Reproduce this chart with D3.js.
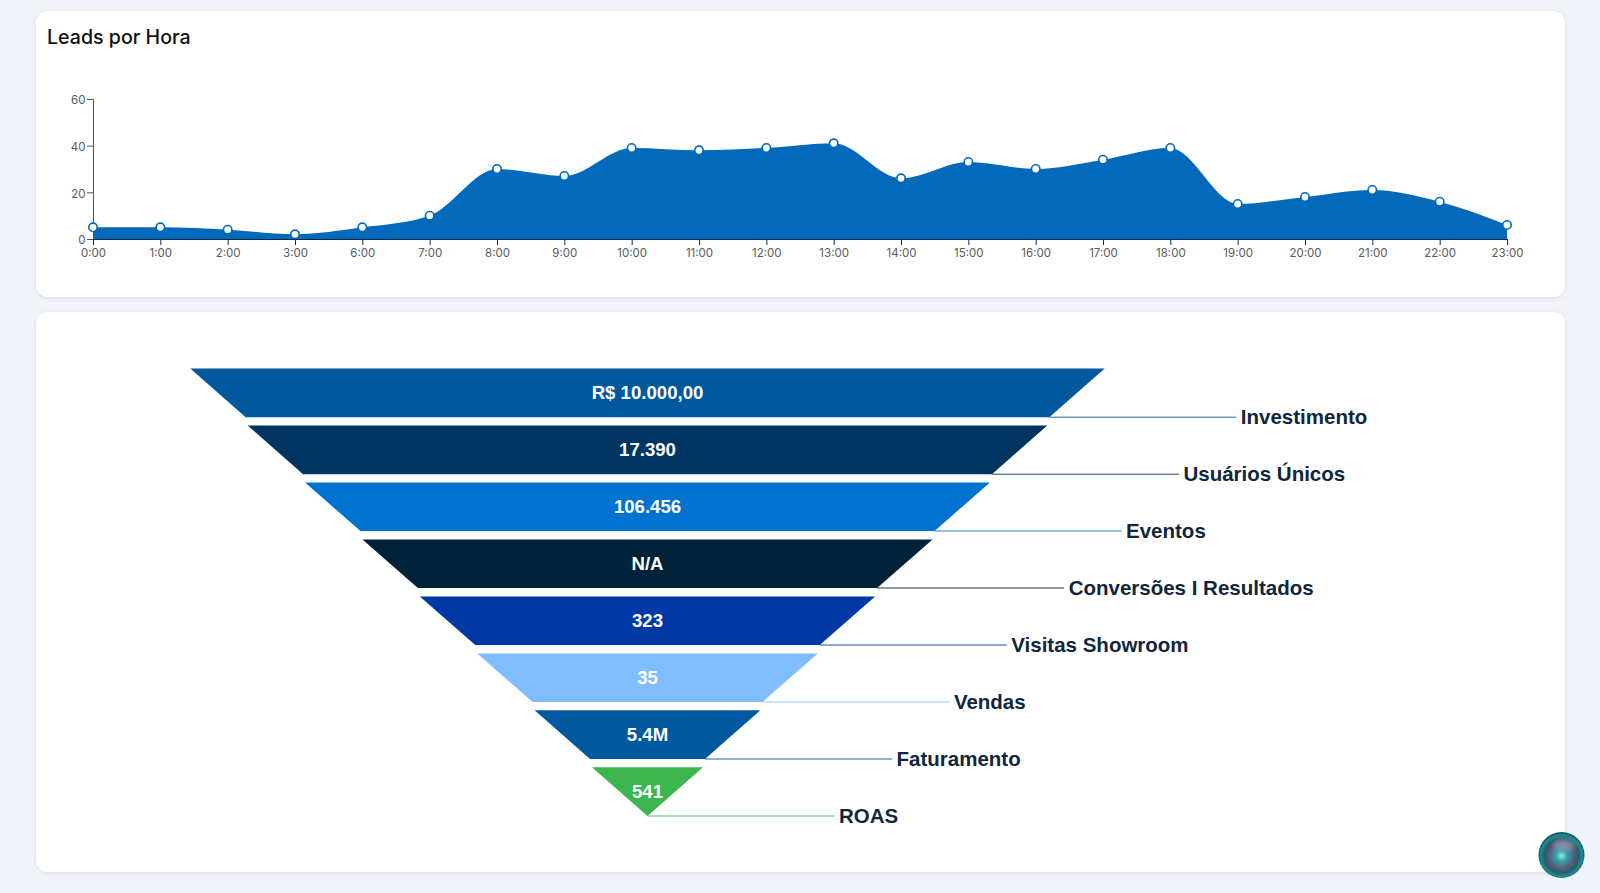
<!DOCTYPE html>
<html>
<head>
<meta charset="utf-8">
<script src="https://cdn.jsdelivr.net/npm/d3@7"></script>
<style>
  html, body { margin: 0; padding: 0; background: #f0f4f9; overflow: hidden; }
  svg { display: block; }
  .tick text { font-family: Inter, "Open Sans", sans-serif; font-size: 11.5px; fill: #5a5a5a; }
</style>
</head>
<body>
<svg id="chart" width="1600" height="893"></svg>
<script>
const HOURS = ['0:00','1:00','2:00','3:00','6:00','7:00','8:00','9:00','10:00','11:00','12:00','13:00','14:00','15:00','16:00','17:00','18:00','19:00','20:00','21:00','22:00','23:00'];
const LEADS = [5,5,4,2,5,10,30,27,39,38,39,41,26,33,30,34,39,15,18,21,16,6];
const Y_TICKS = [0,20,40,60];

const STAGES = ['Investimento','Usuários Únicos','Eventos','Conversões I Resultados','Visitas Showroom','Vendas','Faturamento','ROAS'];
const STAGE_VALUES = ['R$ 10.000,00','17.390','106.456','N/A','323','35','5.4M','541'];
const STAGE_COLORS = ['#00599d','#003461','#0073d1','#002239','#0039a6','#80bdff','#00589f','#3cb54e'];

const SVG = d3.select('#chart');

const DEFS = SVG.append('defs');
const SHADOW = DEFS.append('filter').attr('id', 'shadow')
  .attr('x', '-2%').attr('y', '-5%').attr('width', '104%').attr('height', '110%');
SHADOW.append('feDropShadow')
  .attr('dx', 0).attr('dy', 1).attr('stdDeviation', 2)
  .attr('flood-color', '#8a99ad').attr('flood-opacity', 0.25);

const BALL = DEFS.append('radialGradient').attr('id', 'ball')
  .attr('cx', '50%').attr('cy', '52%').attr('r', '50%');
[[0, '#8fe8ea'], [0.25, '#2fa3aa'], [0.5, '#56657f'], [0.75, '#2b5a68'], [0.9, '#1b8f96'], [1, '#0f5a66']]
  .forEach(([o, c]) => BALL.append('stop').attr('offset', o).attr('stop-color', c));
DEFS.append('filter').attr('id', 'soft').append('feGaussianBlur').attr('stdDeviation', 2.5);

// cards
[[36, 11, 1529, 286], [36, 312, 1529, 560]].forEach(([x, y, w, h]) => {
  SVG.append('rect')
    .attr('x', x).attr('y', y).attr('width', w).attr('height', h)
    .attr('rx', 12).attr('fill', '#fff').attr('filter', 'url(#shadow)');
});

SVG.append('text')
  .text('Leads por Hora')
  .attr('x', 47).attr('y', 44)
  .style('font-family', 'Inter, sans-serif')
  .style('font-size', '19.6px')
  .style('font-weight', '500')
  .style('fill', '#111');

// area chart
const X = d3.scalePoint().domain(HOURS).range([93, 1507]);
const Y = d3.scaleLinear().domain([0, 60]).range([239, 99]);

const AREA = d3.area()
  .x((d, i) => X(HOURS[i]))
  .y0(Y(0))
  .y1((d) => Y(d))
  .curve(d3.curveMonotoneX);

SVG.append('path').datum(LEADS).attr('d', AREA).attr('fill', '#0369bb');

const Y_AXIS = SVG.append('g')
  .attr('transform', `translate(${X(HOURS[0])}, 0)`)
  .call(d3.axisLeft(Y).tickValues(Y_TICKS).tickSize(6).tickPadding(1.5));
Y_AXIS.selectAll('path, line').attr('stroke', '#555');
Y_AXIS.selectAll('text').attr('dy', '0.42em');

const X_AXIS = SVG.append('g')
  .attr('transform', `translate(0, ${Y(0)})`)
  .call(d3.axisBottom(X).tickSize(6).tickPadding(4));
X_AXIS.selectAll('path, line').attr('stroke', '#0b2a4a');

SVG.append('g').selectAll('circle')
  .data(LEADS)
  .join('circle')
  .attr('cx', (d, i) => X(HOURS[i]))
  .attr('cy', (d) => Y(d))
  .attr('r', 4.2)
  .attr('fill', '#fff')
  .attr('stroke', '#0369bb')
  .attr('stroke-width', 1.6);

// funnel
const CENTER = 647.5;
const BAND = d3.scaleBand().domain(STAGES).range([368.5, 816]).paddingInner(0.146).paddingOuter(0);
const HALF = d3.scaleLinear().domain([0, STAGES.length - 1]).range([457.2, 55.5]);

const bottomHalf = (i) => (i === STAGES.length - 1 ? 0 : HALF(i + 1) + 2);

const STAGE_G = SVG.append('g').selectAll('g').data(STAGES).join('g');

STAGE_G.append('path')
  .attr('d', (d, i) => {
    const TOP = BAND(d);
    const BOTTOM = TOP + BAND.bandwidth();
    return d3.line()([
      [CENTER - HALF(i), TOP],
      [CENTER + HALF(i), TOP],
      [CENTER + bottomHalf(i), BOTTOM],
      [CENTER - bottomHalf(i), BOTTOM],
    ]) + 'Z';
  })
  .attr('fill', (d, i) => STAGE_COLORS[i]);

STAGE_G.append('text')
  .text((d, i) => STAGE_VALUES[i])
  .attr('x', CENTER)
  .attr('y', (d) => BAND(d) + BAND.bandwidth() / 2 + 6.5)
  .style('text-anchor', 'middle')
  .style('font-family', '"Liberation Sans", sans-serif')
  .style('font-weight', '700')
  .style('font-size', '18.6px')
  .style('fill', '#fff');

STAGE_G.append('line')
  .attr('x1', (d, i) => CENTER + bottomHalf(i))
  .attr('x2', (d, i) => CENTER + bottomHalf(i) + 187)
  .attr('y1', (d) => BAND(d) + BAND.bandwidth())
  .attr('y2', (d) => BAND(d) + BAND.bandwidth())
  .attr('stroke', (d, i) => STAGE_COLORS[i])
  .attr('stroke-opacity', 0.6)
  .attr('stroke-width', 1.5);

STAGE_G.append('text')
  .text((d) => d)
  .attr('x', (d, i) => CENTER + bottomHalf(i) + 191.5)
  .attr('y', (d) => BAND(d) + BAND.bandwidth() + 7)
  .style('font-family', '"Liberation Sans", sans-serif')
  .style('font-weight', '700')
  .style('font-size', '20.5px')
  .style('fill', '#10263c');

// floating assistant button
SVG.append('circle')
  .attr('cx', 1561.5).attr('cy', 855).attr('r', 23)
  .attr('fill', 'url(#ball)');
SVG.append('ellipse')
  .attr('cx', 1564).attr('cy', 845).attr('rx', 11).attr('ry', 6)
  .attr('fill', '#a99cc0').attr('opacity', 0.6).attr('filter', 'url(#soft)');
</script>
</body>
</html>
